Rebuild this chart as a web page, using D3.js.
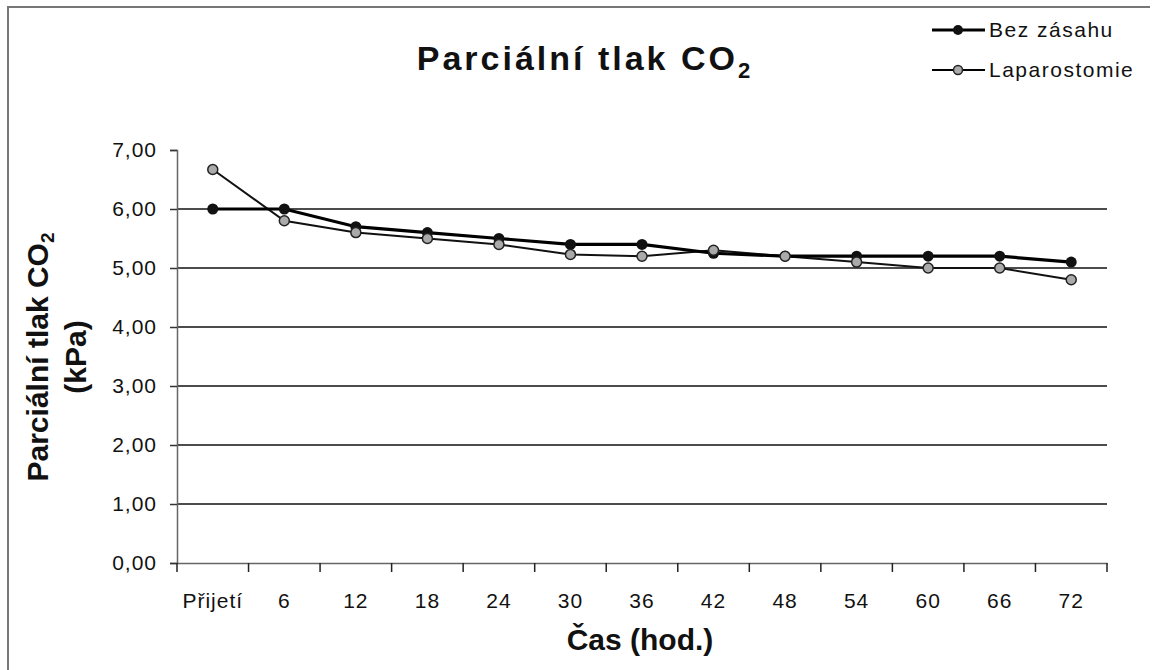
<!DOCTYPE html>
<html>
<head>
<meta charset="utf-8">
<script src="https://cdn.jsdelivr.net/npm/d3@7"></script>
<style>
  body { margin: 0; background: #fff; }
  text { font-family: "Liberation Sans", Arial, sans-serif; fill: #111; }
</style>
</head>
<body>
<svg id="chart" width="1161" height="670"></svg>
<script>
// data
const categories = ["Přijetí", "6", "12", "18", "24", "30", "36", "42", "48", "54", "60", "66", "72"];
const bezZasahu = [6.00, 6.00, 5.70, 5.60, 5.50, 5.40, 5.40, 5.25, 5.20, 5.20, 5.20, 5.20, 5.10];
const laparostomie = [6.67, 5.80, 5.60, 5.50, 5.40, 5.23, 5.20, 5.30, 5.20, 5.10, 5.00, 5.00, 4.80];
const yTicks = [0, 1, 2, 3, 4, 5, 6, 7];
const seriesNames = ["Bez zásahu", "Laparostomie"];

const svg = d3.select("#chart");
const margin = { top: 150, right: 54, bottom: 107, left: 177 };
const width = +svg.attr("width") - margin.left - margin.right;
const height = +svg.attr("height") - margin.top - margin.bottom;

// frame remnants of the scanned chart
svg.append("path")
    .attr("d", "M8,670 V7 H1150")
    .attr("fill", "none")
    .attr("stroke", "#777")
    .attr("stroke-width", 2);

const chart = svg.append("g")
    .attr("transform", `translate(${margin.left},${margin.top})`);

const x = d3.scaleBand()
    .domain(categories)
    .range([0, width]);

const y = d3.scaleLinear()
    .domain([0, 7])
    .range([height, 0]);

// gridlines
chart.selectAll(".grid")
    .data(yTicks.filter(d => d > 0 && d < 7))
    .enter()
    .append("line")
    .attr("class", "grid")
    .attr("x1", 0)
    .attr("x2", width)
    .attr("y1", d => y(d))
    .attr("y2", d => y(d))
    .attr("stroke", "#111")
    .attr("stroke-width", 1.6);

// y axis
const yAxis = d3.axisLeft(y)
    .tickValues(yTicks)
    .tickSize(7)
    .tickPadding(13)
    .tickFormat(d => d3.format(".2f")(d).replace(".", ","));

const yg = chart.append("g").call(yAxis);
yg.select(".domain").attr("stroke", "#666").attr("stroke-width", 1.5);
yg.selectAll(".tick line").attr("stroke", "#333").attr("stroke-width", 1.5);
yg.selectAll(".tick text")
    .attr("font-size", 21)
    .attr("letter-spacing", 1)
    .attr("font-family", "Liberation Sans, Arial, sans-serif")
    .attr("fill", "#111");

// x axis
const xAxis = d3.axisBottom(x)
    .tickSize(0)
    .tickPadding(30);

const xg = chart.append("g")
    .attr("transform", `translate(0,${height})`)
    .call(xAxis);
xg.select(".domain").attr("stroke", "#666").attr("stroke-width", 1.5);
xg.selectAll(".tick text")
    .attr("font-size", 21)
    .attr("letter-spacing", 1)
    .attr("font-family", "Liberation Sans, Arial, sans-serif")
    .attr("fill", "#111");

// tick marks between categories
const bounds = categories.map(c => x(c)).concat([x.range()[1]]);
chart.selectAll(".xtick")
    .data(bounds)
    .enter()
    .append("line")
    .attr("class", "xtick")
    .attr("x1", d => d)
    .attr("x2", d => d)
    .attr("y1", height)
    .attr("y2", height + 9)
    .attr("stroke", "#222")
    .attr("stroke-width", 1.5);

// series
const cx = (d, i) => x(categories[i]) + x.bandwidth() / 2;
const line = d3.line()
    .x(cx)
    .y(d => y(d));

chart.append("path")
    .datum(laparostomie)
    .attr("fill", "none")
    .attr("stroke", "#111")
    .attr("stroke-width", 2)
    .attr("d", line);

chart.append("path")
    .datum(bezZasahu)
    .attr("fill", "none")
    .attr("stroke", "#000")
    .attr("stroke-width", 3.2)
    .attr("d", line);

chart.selectAll(".dotB")
    .data(bezZasahu)
    .enter()
    .append("circle")
    .attr("class", "dotB")
    .attr("cx", cx)
    .attr("cy", d => y(d))
    .attr("r", 5.5)
    .attr("fill", "#111");

chart.selectAll(".dotL")
    .data(laparostomie)
    .enter()
    .append("circle")
    .attr("class", "dotL")
    .attr("cx", cx)
    .attr("cy", d => y(d))
    .attr("r", 5)
    .attr("fill", "#aaa")
    .attr("stroke", "#222")
    .attr("stroke-width", 1.5);

// title
const title = svg.append("text")
    .attr("x", 585)
    .attr("y", 70)
    .attr("text-anchor", "middle")
    .attr("font-size", 34)
    .attr("font-weight", "bold")
    .attr("letter-spacing", 3);
title.append("tspan").text("Parciální tlak CO");
title.append("tspan").text("2").attr("font-size", 22).attr("dy", 8);

// axis titles
const yt1 = svg.append("text")
    .attr("transform", "translate(48,357) rotate(-90)")
    .attr("text-anchor", "middle")
    .attr("font-size", 30)
    .attr("font-weight", "bold");
yt1.append("tspan").text("Parciální tlak CO");
yt1.append("tspan").text("2").attr("font-size", 19).attr("dy", 6);

svg.append("text")
    .attr("transform", "translate(86,357) rotate(-90)")
    .attr("text-anchor", "middle")
    .attr("font-size", 30)
    .attr("font-weight", "bold")
    .text("(kPa)");

svg.append("text")
    .attr("x", 640)
    .attr("y", 650)
    .attr("text-anchor", "middle")
    .attr("font-size", 30)
    .attr("font-weight", "bold")
    .text("Čas (hod.)");

// legend
const legend = svg.append("g")
    .attr("transform", "translate(932,30)");

seriesNames.forEach((name, i) => {
    const row = legend.append("g")
        .attr("transform", `translate(0,${i * 40})`);

    row.append("line")
        .attr("x1", 0)
        .attr("x2", 53)
        .attr("stroke", "#000")
        .attr("stroke-width", i === 0 ? 3 : 2);

    row.append("circle")
        .attr("cx", 26)
        .attr("r", i === 0 ? 5 : 4.5)
        .attr("fill", i === 0 ? "#111" : "#aaa")
        .attr("stroke", "#222")
        .attr("stroke-width", i === 0 ? 0 : 1.5);

    row.append("text")
        .attr("x", 57)
        .attr("y", 7)
        .attr("font-size", 21)
        .attr("letter-spacing", 1.5)
        .text(name);
});
</script>
</body>
</html>
